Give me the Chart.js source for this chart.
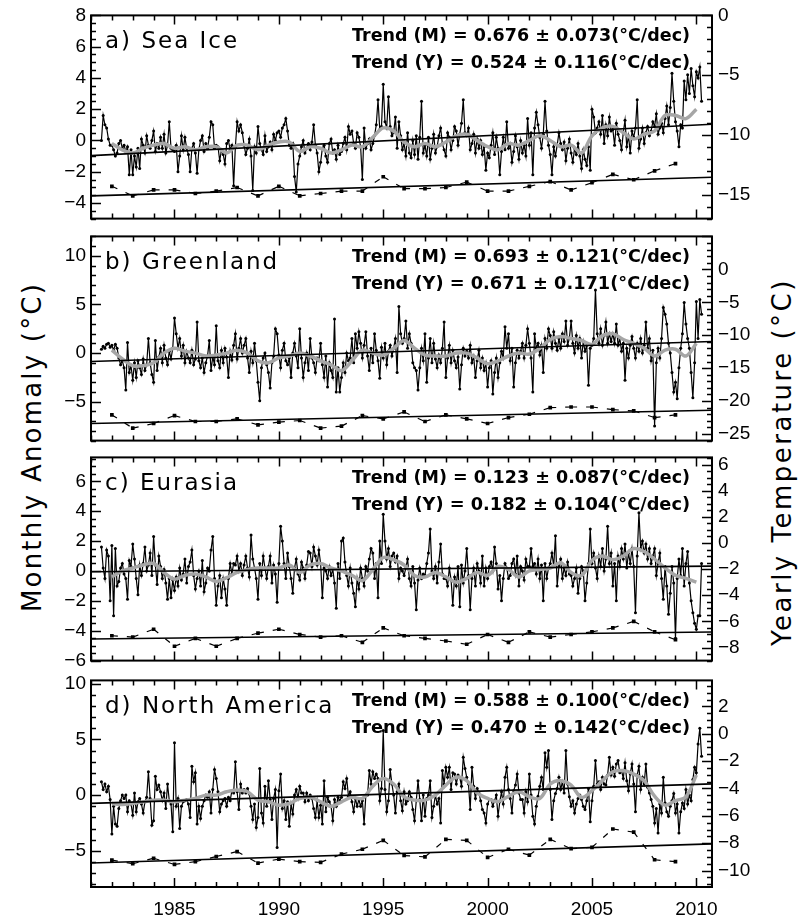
<!DOCTYPE html>
<html>
<head>
<meta charset="utf-8">
<script src="https://cdn.jsdelivr.net/npm/chart.js@4.4.0/dist/chart.umd.min.js"></script>
<style>
  html, body { margin: 0; padding: 0; background: #fff; width: 801px; height: 924px; overflow: hidden; }
  canvas { position: absolute; left: 0; }
  .axtitle { position: absolute; font-family: "DejaVu Sans", sans-serif; font-size: 26px; line-height: 1;
             white-space: nowrap; color: #000; transform: translate(-50%, -50%) rotate(-90deg); }
</style>
</head>
<body>
<div class="axtitle" style="left:32px; top:447px; letter-spacing:2.2px">Monthly Anomaly (°C)</div>
<div class="axtitle" style="left:782px; top:462px; letter-spacing:2.5px">Yearly Temperature (°C)</div>
<canvas id="cA" width="801" height="238" style="top:-2px"></canvas>
<canvas id="cB" width="801" height="239" style="top:219px"></canvas>
<canvas id="cC" width="801" height="238" style="top:440px"></canvas>
<canvas id="cD" width="801" height="264" style="top:663px"></canvas>
<script>
// monthly anomalies, Jul 1981 .. Apr 2010 (one row per year)
const monthStart = 1981.5;
const monthlyA = [
  0.0, 1.6, 1.0, 0.8, 0.1, -0.3,
  -0.3, -0.6, -1.0, -0.8, -0.2, 0.0, -0.5, -0.3, -0.7, -0.4, -2.2, -0.6,
  -2.2, -1.0, -1.7, -0.5, -1.8, 0.1, -0.3, -0.8, 0.3, -0.3, -0.5, 0.0,
  0.6, -0.7, -0.2, -0.5, 0.2, -0.5, 0.4, -0.8, -0.3, 1.2, -0.5, -0.6,
  -0.7, -0.3, -2.0, -1.0, 0.3, -0.6, 0.2, -0.5, -0.9, -2.0, -0.5, -0.2,
  -0.8, -2.1, -0.6, 0.0, 0.3, -0.7, -0.2, -0.5, 0.2, 1.2, 1.0, -0.5,
  -0.3, -0.4, -1.3, -0.6, -0.9, -1.5, -0.2, 0.0, -0.6, -0.3, -2.9, -0.4,
  1.2, 0.6, 1.0, 0.5, -0.3, -0.9, -0.5, 0.1, -1.0, -3.2, -0.4, -0.8,
  0.9, -0.2, -0.6, -0.9, 0.3, -0.7, -0.4, -0.1, -0.6, 0.4, 0.0, 0.5,
  0.6, 0.2, 0.8, 1.0, 1.4, 0.6, -0.3, -0.5, -0.2, -2.3, -3.3, -1.5,
  -1.0, -0.4, 0.0, -0.8, -0.5, -0.2, -0.6, -0.1, 1.0, -0.3, -0.8, -2.0,
  -1.4, -0.5, -0.3, -1.0, -1.4, -0.2, 0.1, -0.8, -0.6, -1.2, -0.3, -0.9,
  -0.7, -0.2, 0.2, -0.6, 0.9, 0.4, 0.6, -0.2, -0.5, 0.5, 0.2, -0.4,
  -2.5, 0.8, -0.5, -0.2, 0.1, -0.6, -0.2, 0.3, 1.0, 2.6, 0.7, 0.9,
  3.6, 1.2, 0.8, 2.8, 0.9, 0.3, 0.5, 1.5, -0.5, 1.2, 0.3, -0.6,
  -0.2, -1.0, 0.5, -0.8, -1.1, 0.0, -0.9, 0.3, -1.2, 0.2, 2.5, -0.8,
  -0.3, -1.0, 0.2, -1.2, -0.5, 0.4, -0.8, -0.4, 0.3, 0.8, -0.2, -0.6,
  -1.0, 0.5, 0.2, -0.6, 0.0, 0.9, 0.6, -0.3, 0.4, 1.1, 2.6, 0.5,
  0.3, 0.8, -0.6, -0.2, 0.4, -0.8, 0.1, -0.5, 0.0, -0.9, -0.4, -1.9,
  -0.8, -1.1, -0.3, 0.5, -0.9, 0.2, -0.5, -2.2, -0.7, 0.2, -0.6, 1.2,
  -0.5, -0.2, -1.4, -0.7, 0.3, -0.4, -1.2, 0.0, -0.8, -0.3, -1.0, 1.4,
  -0.3, 0.5, -2.2, 0.8, 1.8, 1.0, 0.2, -0.5, 0.4, 2.5, 0.6, -0.3,
  -0.9, -2.2, -0.4, -1.0, -0.3, 0.5, -0.2, -0.6, -0.1, -1.3, -0.5, 0.1,
  -0.8, -1.4, -0.5, -0.9, -0.2, -1.0, -1.8, -0.6, -1.2, -1.6, -0.4, -1.9,
  2.0, 1.5, 0.5, 0.8, 1.2, 0.4, 1.6, -0.2, 1.0, 0.3, 1.5, 0.6,
  0.7, -0.3, 1.1, 0.4, 0.0, -0.6, 0.5, 1.3, -0.4, 0.3, -0.8, 0.6,
  0.2, 0.8, 2.6, -0.5, 0.1, 0.8, -0.2, 0.5, 0.9, 0.3, 0.6, 1.2,
  0.9, 1.7, 0.4, 0.8, 1.1, 0.5, 1.4, 2.2, 1.0, 2.1, 4.3, 2.5,
  1.2, 0.6, -0.4, 1.0, 0.8, 3.8, 2.6, 4.2, 3.0, 4.6, 3.5, 2.8,
  4.4, 4.0, 4.7, 2.5
];
const monthlyB = [
  0.4, 0.7, 0.5, 0.9, 1.0, 0.6,
  0.8, 0.3, 0.9, 0.5, -0.5, -1.2, -0.8, -1.5, -3.8, 1.1, -2.0, -1.3,
  -2.8, -1.0, -2.5, -0.8, -1.5, -2.2, -0.6, -1.8, -1.2, 1.5, -1.0, -2.2,
  -3.0, 1.3, -1.8, -0.4, 0.5, -1.0, 0.8, -0.5, -1.2, 0.2, -0.6, 0.5,
  3.6, 2.0, 0.5, 1.5, -0.3, 0.8, -1.0, 0.2, -0.5, -1.0, 0.3, -1.2,
  -0.6, 3.2, -0.8, -1.5, -0.5, -2.0, -1.0, -0.3, 1.3, -1.8, -0.4, -1.2,
  2.8, -0.8, -1.5, 0.3, -1.0, 0.5, -0.4, -2.5, 0.2, -0.7, 0.8, 2.0,
  -0.6, 0.5, 1.5, 0.0, 0.8, 1.5, -0.5, -2.0, 0.2, -1.0, 1.0, -0.8,
  -3.0, -4.9, -1.5, -0.5, 0.0, -1.2, -2.0, -3.6, -1.0, -0.3, 2.5, 2.0,
  -0.2, -1.5, 0.3, 1.0, -0.8, -1.2, -0.5, -2.5, 0.0, 1.0, -0.3, -1.5,
  2.5, -0.5, -2.5, -1.0, 0.0, -1.8, 1.5, -0.5, -1.0, -2.0, -0.5, -0.8,
  1.0, -1.2, -2.5, -0.3, -3.5, -1.0, -1.8, -2.5, 3.5, -4.0, -1.5, -4.0,
  -2.5, -1.0, -2.0, 0.0, -0.8, -0.5, 1.5, -1.0, 2.0, 0.5, 2.2, 1.0,
  -0.5, 0.8, 2.2, -0.3, -1.8, 0.5, -1.0, 2.0, 0.3, -0.8, -2.6, 0.6,
  -0.5, 1.0, -1.2, 0.2, 0.8, -0.3, 0.5, 1.5, -2.0, 4.8, 2.0, 1.0,
  1.5, 3.3, 0.5, 2.0, 1.0, -1.0, -1.5, -1.8, -3.8, -1.5, 0.5, -0.8,
  2.0, -3.0, -0.5, 1.5, -1.0, 1.0, -0.6, -1.5, -0.2, -1.0, 0.5, 3.2,
  -2.5, -0.5, 0.8, -1.0, 0.3, -0.8, -1.5, -0.4, -3.7, -1.2, 0.5, -0.3,
  0.2, -0.5, 0.8, -1.0, -0.3, -2.5, -0.8, 0.3, -1.5, -0.5, -1.8, -1.0,
  -3.5, -1.5, -0.8, -4.2, -2.0, -0.5, -2.5, -1.0, 0.2, -0.5, 2.7, 0.5,
  2.0, -0.8, 0.5, -3.5, -1.0, 0.3, -0.5, 0.2, 1.0, -0.5, 0.8, 2.5,
  1.0, -0.5, -4.0, 2.0, 0.5, 1.0, -0.2, 0.8, -2.0, 1.5, 0.5, 2.5,
  1.8, 0.5, 2.2, 1.0, 0.3, 1.5, 0.5, 2.0, 1.2, 3.3, 0.8, 1.5,
  3.3, 1.0, 0.0, 1.8, 0.5, 1.5, -0.5, 1.2, 0.2, 0.8, -3.3, 0.5,
  0.8, 1.5, 6.5, 2.0, 1.0, 2.5, 0.8, 1.8, 3.2, 1.0, 2.0, 1.2,
  2.0, 1.0, 3.0, 0.8, 1.5, 0.2, 1.0, -2.8, 0.5, -0.5, 0.8, 1.7,
  0.5, -0.5, 1.0, 0.2, 1.5, 0.0, 0.8, 3.2, 0.5, 1.5, -0.8, 0.3,
  -7.5, -1.0, 0.5, -0.5, 1.5, 4.7, 4.0, 3.0, 1.0, 0.0, -2.0, -4.0,
  -3.0, -4.7, -1.5, 0.5, 2.0, 5.2, 3.0, 1.5, 0.5, -2.0, -4.6, -1.0,
  5.3, 1.5, 5.5, 4.0
];
const monthlyC = [
  1.6, 0.2, -0.5, 1.4, 1.0, -2.0,
  1.7, -3.0, 1.5, -1.0, -0.7, 0.2, 0.5, -0.2, -0.5, -1.9, 0.7, 0.3,
  1.8, 0.8, -0.5, -1.6, 0.4, -0.3, 0.5, 1.6, 0.0, 0.4, 1.2, -0.3,
  2.3, 0.4, -0.9, 1.0, 0.3, -0.5, 0.1, -0.8, -1.9, -0.5, -1.8, -0.6,
  -1.3, -0.4, -1.0, 0.2, -0.6, -0.2, 0.8, -0.8, 0.3, 0.6, 1.4, -0.3,
  -1.2, -0.5, 0.0, -1.0, 0.7, -1.4, -0.8, 0.2, 0.0, 1.4, 2.3, -0.5,
  -2.3, -1.0, -0.3, -1.8, -0.5, -1.2, -2.3, -0.5, 0.5, -0.2, 0.5, 0.4,
  1.0, 0.0, 0.5, -0.3, 0.4, 1.0, 0.2, -0.4, 2.4, 0.8, 0.2, -0.5,
  -1.9, 0.5, -0.3, 1.0, 0.2, -0.5, 0.3, 1.0, -0.8, 0.4, -0.2, -2.1,
  0.5, 3.0, 2.0, 0.5, -0.5, 1.2, 0.3, -0.5, -1.5, 0.2, 0.8, -0.2,
  -0.6, 0.6, 0.2, -0.5, 0.4, 1.3, 1.2, 0.3, 1.6, 1.0, 0.4, 1.4,
  0.5, -1.8, 0.2, 0.0, -0.5, 0.3, -0.3, 0.1, -0.8, -2.5, 0.5, -0.5,
  2.0, 2.2, 0.6, -0.3, -1.0, 0.2, -0.8, -1.5, -2.4, -0.5, -1.2, 0.2,
  -0.5, -1.0, 0.3, 0.0, 0.8, 1.5, 1.2, -0.5, 0.5, -1.8, 2.0, 0.5,
  3.8, 2.0, 0.8, 1.5, 0.3, 1.0, 1.2, 0.6, 1.0, -0.5, 0.2, 0.0,
  -0.3, 0.2, 0.8, -0.5, -1.0, 0.3, -0.8, -2.6, -0.6, 0.2, -0.5, -0.2,
  -0.3, 0.5, 1.2, 2.8, 0.0, -0.5, 0.3, -0.8, 0.6, 1.8, -0.2, -0.5,
  -0.5, -1.0, 0.2, -0.6, -2.3, -0.4, -1.0, 0.3, -2.4, 0.4, -0.8, 0.0,
  1.5, -0.3, -2.6, -0.5, 0.2, -1.0, 0.5, 0.0, -0.8, 1.0, -1.0, 0.2,
  -0.5, 0.3, 0.6, 0.0, 1.6, 0.5, -1.2, -0.3, -2.0, -0.5, 0.5, 0.2,
  -0.5, -0.3, 0.5, 0.8, -0.2, 1.0, -1.0, 0.3, 0.0, -0.6, 0.8, 0.3,
  0.3, 1.5, 0.3, 0.5, -0.2, 0.8, -0.5, 0.4, -2.0, 0.5, -0.5, 0.2,
  0.5, 1.2, 0.3, 2.35, -1.0, 0.3, 0.8, -0.5, 0.2, -0.3, 0.6, -0.2,
  -0.3, -1.0, -0.5, 0.2, -1.5, -0.5, 0.3, 0.0, -2.0, -0.8, 0.5, 2.8,
  0.5, 1.2, 0.2, -0.5, 1.0, 0.3, 1.5, 0.0, 0.8, 3.0, 0.5, 1.2,
  -1.0, 0.5, -2.0, 1.0, 0.3, 1.5, 0.8, 1.8, 0.2, 1.2, 0.5, 1.5,
  0.3, -2.8, 1.0, 3.9, 1.5, 2.0, 1.2, 1.8, 0.8, 1.5, 0.5, 1.0,
  1.5, -0.3, 0.5, 1.2, -0.5, -1.9, 0.3, -1.0, -2.9, -1.5, 0.3, -0.8,
  -4.5, -0.5, 0.8, -0.3, 1.5, -1.0, 0.5, 1.3, -0.8, -2.0, -2.8, -3.5,
  -3.9, -3.0, -3.0, 0.5
];
const monthlyD = [
  1.2, 0.5, 1.0, 0.3, 0.8, -0.4,
  -3.5, -1.0, -2.6, -2.8, -1.2, -0.5, 0.0, -0.3, 0.0, -1.5, -0.5, -0.8,
  -1.8, 0.2, -1.5, -0.6, -0.3, -0.8, -1.6, -0.6, -0.2, 2.1, -0.3, -2.7,
  -2.3, 1.7, 0.5, 0.9, 0.3, -0.5, 0.2, -1.2, 1.0, -0.5, -0.8, -3.3,
  4.7, -1.0, -0.3, -3.0, -1.0, -0.6, -0.5, -0.4, -0.8, -2.0, 2.6, 1.2,
  2.0, -2.6, -1.0, -2.1, -1.0, -0.5, 0.0, -0.2, 0.3, -1.6, 0.5, 2.3,
  1.5, 0.3, -1.5, -0.8, -0.5, -0.3, -1.0, -0.2, -0.5, 0.4, 0.2, 3.0,
  0.3, -1.3, 1.0, 0.2, 0.5, 0.2, 0.6, 0.1, -1.0, -2.2, -0.8, -2.9,
  -2.0, 2.4, -1.6, -2.5, 0.8, -1.0, 1.3, -0.4, -2.2, -0.3, 0.5, -4.7,
  0.4, 1.9, -1.2, -0.5, -2.2, -0.6, -2.8, -0.8, -1.7, 0.0, 0.5, -0.3,
  0.8, 0.2, 0.2, -0.6, 0.2, -0.5, 0.0, -0.3, -1.2, -2.0, -0.5, -2.0,
  -0.9, -2.6, 1.3, -1.5, -0.2, -0.6, -1.0, -2.3, -0.4, -1.0, -0.2, -0.5,
  -0.2, 1.2, 0.6, 1.5, -0.1, 0.3, -0.6, -1.5, -0.3, -1.0, -0.4, -1.0,
  -0.5, -2.6, 0.0, 0.0, 2.2, 1.0, 2.1, 1.5, 1.9, 1.5, -0.5, 0.6,
  5.8, 0.5, -1.5, -0.5, 2.3, 1.0, 0.0, -1.6, 0.3, 1.0, -0.5, -1.4,
  0.3, -0.8, -0.5, 0.3, -0.2, -1.3, -2.3, -0.5, 1.3, -0.4, -2.3, 0.0,
  -1.9, -0.3, 0.0, 1.3, -2.0, -1.0, 0.0, -0.8, -0.3, -2.5, 2.2, 1.0,
  2.5, 1.6, 2.5, 0.5, 2.0, 1.9, 1.0, 1.8, 1.6, 0.8, 3.4, 2.4,
  1.6, 1.0, -1.3, 2.5, 0.8, -0.3, 0.6, 0.2, -0.5, -1.3, -1.6, -2.5,
  -0.8, -0.4, -0.4, -1.0, -0.5, 0.0, -1.9, -0.6, 0.3, -0.8, 1.6, 2.5,
  0.5, -0.3, -1.6, 0.4, 0.9, 1.9, 0.2, -0.4, -0.4, -1.6, 0.3, -0.6,
  1.9, 0.0, -1.9, -2.6, -1.0, -0.1, 0.8, 1.6, 0.5, 3.8, 2.5, 4.0,
  0.5, -2.2, -0.5, 0.15, 0.6, 1.6, 0.5, 1.2, 0.2, 4.0, 1.0, -0.15,
  -1.0, -0.5, -1.6, -0.8, -0.3, 0.0, -0.4, -1.0, -1.3, -0.5, 0.6, -2.4,
  -0.5, 0.8, 3.1, 1.0, 1.2, 0.5, 1.6, 1.0, 0.9, 1.8, 3.4, 1.8,
  2.5, 1.7, 2.8, 3.1, 2.0, 2.2, 1.5, 2.9, 1.3, 0.4, 1.9, 2.8,
  1.0, -1.5, 1.8, 2.6, 0.5, 1.6, 1.0, 2.8, 0.7, 0.2, -0.4, -1.0,
  -2.5, -1.2, -3.4, -0.8, -1.6, 1.6, -0.7, -1.5, -1.9, -1.0, -0.5, 0.15,
  -1.6, -0.8, -3.4, -1.5, -0.7, -1.2, 0.5, -0.8, 0.0, -0.5, 1.4, 2.5,
  2.0, 4.6, 6.0, 3.5
];

// grey smoothed curve, read every half year from 1982.0 to 2010.0
const smoothStart = 1982;
const smoothA = [-0.2,-0.6,-0.8,-0.5,-0.3,-0.2,-0.5,-0.4,-0.6,-0.4,-0.4,-0.8,-0.3,-0.3,-0.6,-0.3,-0.1,-0.1,-0.7,-0.4,
  -0.5,-0.8,-0.6,-0.3,-0.4,0.2,0.8,0.6,-0.1,-0.4,-0.2,-0.4,-0.1,0.3,0.4,0.0,-0.4,-0.6,-0.2,-0.3,
  0.0,0.3,0.0,-0.4,-0.3,-0.8,0.3,0.8,0.9,0.5,0.1,0.4,0.6,1.6,1.6,1.4,2.0];
const smoothB = [0.3,-0.6,-1.3,-1.3,-1.0,0.0,0.5,0.2,0.0,-0.3,-0.2,0.0,0.3,0.0,-0.8,-1.0,-0.5,-0.3,0.0,-0.3,
  -0.8,-1.2,-1.8,-0.8,0.3,0.0,-0.2,0.5,1.3,0.5,-0.2,-0.3,-0.3,0.0,0.0,-0.5,-1.1,-0.8,-0.3,0.0,
  -0.1,0.5,1.4,1.7,1.5,1.3,0.9,1.8,2.0,1.4,1.0,0.5,-0.3,0.3,0.4,-0.3,1.0];
const smoothC = [-0.4,0.0,0.2,0.4,0.5,-0.1,-0.55,-0.3,-0.2,-0.4,-0.7,-0.45,-0.1,0.1,0.2,0.2,0.2,0.4,-0.1,0.4,
  0.5,0.2,0.0,-0.3,-0.65,0.1,0.9,0.75,0.4,-0.3,-0.4,-0.1,-0.4,-0.75,-0.5,-0.1,-0.3,0.3,0.1,-0.4,
  0.0,0.1,0.2,0.55,-0.1,-0.3,0.7,1.0,0.75,1.0,1.5,1.3,0.8,0.2,-0.3,-0.5,-0.75];
const smoothD = [-0.75,-0.85,-0.75,-0.6,-0.45,-0.45,-0.6,-0.45,-0.3,0.0,0.0,0.3,0.45,0.3,-0.45,-0.6,-0.9,-0.75,-0.3,-0.2,
  -0.6,-1.0,-0.6,-0.2,-0.3,0.8,1.5,1.0,-0.15,-0.45,-0.45,0.0,0.9,1.6,1.3,0.2,-0.3,-0.6,-0.1,0.3,
  -0.15,-0.3,1.0,1.3,0.9,-0.2,0.4,1.3,2.1,2.2,1.9,1.3,-0.1,-0.9,-0.5,-0.15,1.8];

// yearly mean temperatures (right axis)
const yearlyYears = [1982,1983,1984,1985,1986,1987,1988,1989,1990,1991,1992,1993,1994,1995,
  1996,1997,1998,1999,2000,2001,2002,2003,2004,2005,2006,2007,2008,2009];
const yearlyA = [-14.3,-15.1,-14.6,-14.6,-14.9,-14.7,-14.4,-15.1,-14.3,-15.1,-14.9,-14.7,-14.7,-13.5,
  -14.5,-14.5,-14.4,-13.95,-14.7,-14.7,-14.3,-13.9,-14.6,-14.0,-13.3,-13.75,-13.0,-12.4];
const yearlyB = [-22.1,-24.1,-23.4,-22.2,-23.1,-23.1,-22.7,-23.6,-23.2,-22.95,-24.1,-23.8,-22.2,-22.7,
  -21.65,-23.1,-22.1,-22.7,-23.4,-22.5,-22.0,-21.0,-20.9,-20.9,-21.3,-21.5,-22.5,-22.1];
const yearlyC = [-7.1,-7.2,-6.6,-7.9,-7.3,-7.9,-7.3,-6.9,-6.6,-7.0,-7.2,-7.1,-7.6,-6.5,
  -7.1,-7.3,-7.5,-7.75,-7.0,-7.6,-6.8,-7.2,-7.0,-6.8,-6.5,-6.0,-6.8,-7.4];
const yearlyD = [-9.23,-9.5,-9.1,-9.55,-9.35,-8.97,-8.61,-9.45,-9.16,-9.35,-9.4,-8.8,-8.44,-7.79,
  -8.9,-9.0,-7.72,-7.79,-9.04,-8.44,-8.87,-7.72,-8.4,-8.3,-6.96,-7.19,-9.21,-9.35];

// linear trends, end points
const trendYears = [1981, 2010.75];
const trendMonthlyA = [-0.97, 1.04], trendYearlyA = [-15.1, -13.54];
const trendMonthlyB = [-0.87, 1.19], trendYearlyB = [-23.4, -21.4];
const trendMonthlyC = [-0.05, 0.32], trendYearlyC = [-7.35, -6.81];
const trendMonthlyD = [-0.74, 1.01], trendYearlyD = [-9.45, -8.05];

const trendTextM = ['0.676 ± 0.073', '0.693 ± 0.121', '0.123 ± 0.087', '0.588 ± 0.100'];
const trendTextY = ['0.524 ± 0.116', '0.671 ± 0.171', '0.182 ± 0.104', '0.470 ± 0.142'];
const panelNames = ['a) Sea Ice', 'b) Greenland', 'c) Eurasia', 'd) North America'];

const xTicks = [1985, 1990, 1995, 2000, 2005, 2010];
const leftTicks = [[-4,-2,0,2,4,6,8], [-5,0,5,10], [-6,-4,-2,0,2,4,6], [-5,0,5,10]];
const rightTicks = [[-15,-10,-5,0], [-25,-20,-15,-10,-5,0], [-8,-6,-4,-2,0,2,4,6], [-10,-8,-6,-4,-2,0,2]];

const fmt = v => (v < 0 ? '\u2212' + Math.abs(v) : String(v));

const framePlugin = {
  id: 'frame',
  beforeDatasetsDraw(chart, args, o) {
    const ctx = chart.ctx, a = chart.chartArea;
    ctx.save();
    ctx.fillStyle = '#000';
    ctx.textBaseline = 'alphabetic';
    ctx.textAlign = 'left';
    ctx.font = '23px "DejaVu Sans"';
    ctx.letterSpacing = '2px';
    ctx.fillText(o.title, 105, a.top + 33);
    ctx.letterSpacing = '0px';
    ctx.font = 'bold 17px "DejaVu Sans"';
    [o.lineM, o.lineY].forEach((t, i) => {
      const w = ctx.measureText(t).width;
      ctx.save();
      ctx.translate(352, a.top + 26 + i * 27);
      ctx.scale(338 / w, 1);
      ctx.fillText(t, 0, 0);
      ctx.restore();
    });
    ctx.restore();
  },
  afterDraw(chart, args, o) {
    const ctx = chart.ctx, a = chart.chartArea;
    const sx = chart.scales.x;
    ctx.save();
    ctx.strokeStyle = '#000';
    ctx.lineWidth = 1.5;
    ctx.beginPath();
    for (let yr = 1981; yr <= 2010; yr++) {
      const px = Math.round(sx.getPixelForValue(yr)) + 0.5;
      const len = yr % 5 === 0 ? 9 : 5;
      ctx.moveTo(px, a.top); ctx.lineTo(px, a.top + len);
      ctx.moveTo(px, a.bottom); ctx.lineTo(px, a.bottom - len);
    }
    const side = (scale, x0, dir, major, minor) => {
      const k0 = Math.ceil(scale.min / minor - 1e-6);
      for (let k = k0; k * minor <= scale.max + 1e-6; k++) {
        const v = k * minor;
        const isMajor = Math.abs(v / major - Math.round(v / major)) < 1e-6;
        const py = Math.round(scale.getPixelForValue(v)) + 0.5;
        ctx.moveTo(x0, py); ctx.lineTo(x0 + dir * (isMajor ? 10 : 5), py);
      }
    };
    side(chart.scales.y, a.left, 1, o.lMajor, o.lMinor);
    side(chart.scales.y2, a.right, -1, o.rMajor, o.rMinor);
    ctx.stroke();
    ctx.lineWidth = 2;
    ctx.strokeRect(a.left, a.top, a.right - a.left, a.bottom - a.top);
    ctx.restore();
  }
};

const panels = [
  { id: 'cA', extra: 14, monthly: monthlyA, smooth: smoothA, yearly: yearlyA, tm: trendMonthlyA, ty: trendYearlyA,
    left: [-5, 8, 2, 0.5], right: [-17, 0, 5, 1] },
  { id: 'cB', extra: 14, monthly: monthlyB, smooth: smoothB, yearly: yearlyB, tm: trendMonthlyB, ty: trendYearlyB,
    left: [-9, 12, 5, 1], right: [-26, 5, 5, 1] },
  { id: 'cC', extra: 14, monthly: monthlyC, smooth: smoothC, yearly: yearlyC, tm: trendMonthlyC, ty: trendYearlyC,
    left: [-6, 7.6, 2, 0.5], right: [-9, 6.55, 2, 0.5] },
  { id: 'cD', extra: 40, monthly: monthlyD, smooth: smoothD, yearly: yearlyD, tm: trendMonthlyD, ty: trendYearlyD,
    left: [-8.25, 10.3, 5, 1], right: [-11.2, 3.9, 2, 0.5] }
];

const tickFont = { family: '"Liberation Sans", Arial, sans-serif', size: 19 };

panels.forEach((p, i) => {
  const showX = i === 3;
  const yAxis = (pos, r, ticks, width) => ({
    type: 'linear', position: pos, min: r[0], max: r[1],
    afterBuildTicks: s => { s.ticks = ticks.map(v => ({ value: v })); },
    afterFit: s => { s.width = width; },
    grid: { display: false, drawTicks: false }, border: { display: false },
    ticks: { padding: pos === 'left' ? 5 : 6, color: '#000', font: tickFont, autoSkip: false, callback: v => fmt(v) }
  });
  new Chart(document.getElementById(p.id), {
    type: 'line',
    data: {
      datasets: [
        { data: trendYears.map((x, k) => ({ x, y: p.tm[k] })), yAxisID: 'y', borderColor: '#000', borderWidth: 1.6, pointRadius: 0, order: 0 },
        { data: trendYears.map((x, k) => ({ x, y: p.ty[k] })), yAxisID: 'y2', borderColor: '#000', borderWidth: 1.6, pointRadius: 0, order: 0 },
        { data: p.smooth.map((v, k) => ({ x: smoothStart + k * 0.5, y: v })), yAxisID: 'y', borderColor: '#a6a6a6', borderWidth: 3.5,
          pointRadius: 0, tension: 0.35, order: 1 },
        { data: p.monthly.map((v, k) => ({ x: monthStart + k / 12, y: v })), yAxisID: 'y', borderColor: '#000', borderWidth: 1.2,
          pointRadius: 1.5, pointBackgroundColor: '#000', pointBorderWidth: 0, order: 2 },
        { data: yearlyYears.map((x, k) => ({ x, y: p.yearly[k] })), yAxisID: 'y2', borderColor: '#000', borderWidth: 1.2,
          pointStyle: 'rect', pointRadius: 2.6, pointBackgroundColor: '#000', pointBorderWidth: 0, order: 3,
          segment: { borderDash: () => [6, 9], borderDashOffset: c => (c.p0DataIndex % 2 ? 0.01 : 0) } }
      ]
    },
    options: {
      responsive: false, animation: false, devicePixelRatio: 1,
      layout: { padding: { top: 14, left: 0, right: 0, bottom: 0 } },
      plugins: {
        legend: { display: false }, tooltip: { enabled: false },
        frame: { title: panelNames[i], lineM: 'Trend (M) = ' + trendTextM[i] + '(°C/dec)', lineY: 'Trend (Y) = ' + trendTextY[i] + '(°C/dec)',
                 lMajor: p.left[2], lMinor: p.left[3], rMajor: p.right[2], rMinor: p.right[3] }
      },
      scales: {
        x: { type: 'linear', min: 1981, max: 2010.75,
             afterBuildTicks: s => { s.ticks = xTicks.map(v => ({ value: v })); },
             afterFit: s => { s.height = p.extra; },
             grid: { display: false, drawTicks: false }, border: { display: false },
             ticks: { display: showX, padding: 11, color: '#000', font: tickFont, autoSkip: false, maxRotation: 0, callback: v => String(v) } },
        y: yAxis('left', p.left, leftTicks[i], 91),
        y2: yAxis('right', p.right, rightTicks[i], 89)
      }
    },
    plugins: [framePlugin]
  });
});
</script>
</body>
</html>
